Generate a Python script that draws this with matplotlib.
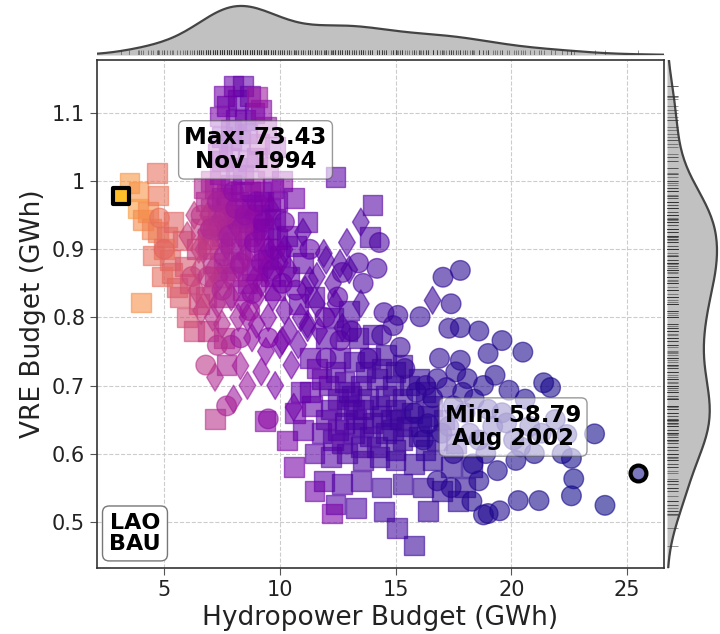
import numpy as np
import matplotlib
matplotlib.use("Agg")
import matplotlib.pyplot as plt
import seaborn as sns
from matplotlib.colors import Normalize
from matplotlib.ticker import FuncFormatter

# (hydropower GWh, VRE GWh, value)
squares = [
    (3.5, 0.997, 71.5), (3.9, 0.985, 71.4), (3.88, 0.96, 71.8), (4.1, 0.943, 71.0),
    (4.3, 0.955, 70.9), (4.45, 0.93, 70.6), (4.7, 1.012, 69.5), (4.74, 0.979, 69.8),
    (4.74, 0.925, 70.2), (4.52, 0.891, 69.6), (5.13, 0.918, 69.2), (5.26, 0.884, 69.0),
    (5.35, 0.865, 68.8), (5.56, 0.844, 68.6), (5.7, 0.83, 68.4), (4.0, 0.822, 71.2),
    (5.8, 0.913, 68.5), (4.9, 0.86, 69.4), (5.0, 0.9, 69.6), (5.9, 0.875, 68.2),
    (6.1, 0.85, 67.8), (6.0, 0.80, 67.9), (6.3, 0.78, 67.4), (6.5, 0.82, 67.2),
    (5.4, 0.94, 68.9), (6.9, 0.78, 66.5), (7.6, 0.77, 65.8), (7.7, 0.73, 65.3),
    (7.2, 0.651, 66.0), (9.36, 0.648, 63.5), (10.3, 0.619, 63.0),
    (6.6, 0.93, 66.5), (7.0, 0.96, 65.8), (7.4, 0.9, 66.0), (7.8, 0.94, 65.2),
    (8.2, 0.97, 64.8), (8.6, 0.92, 64.5), (7.2, 0.86, 66.2), (8.0, 0.88, 65.0),
    (8.8, 0.87, 64.0), (9.1, 0.95, 63.6), (6.8, 0.83, 66.9), (7.6, 0.83, 65.6),
    (8.4, 0.84, 64.6),
    (6.8, 0.97, 65.5), (7.2, 0.99, 64.8), (7.7, 0.98, 64.0), (8.0, 0.95, 64.2),
    (8.5, 0.96, 63.8), (8.9, 0.93, 63.4), (7.5, 0.92, 65.0), (8.3, 0.90, 64.3),
    (9.3, 0.90, 63.2), (9.6, 0.93, 62.8), (7.9, 0.91, 64.6), (8.7, 0.985, 63.5),
    (7.1, 0.935, 65.6), (6.4, 0.90, 66.8), (9.9, 0.97, 62.6), (8.1, 1.02, 63.4),
    (7.3, 1.04, 63.6), (9.0, 0.87, 63.5), (9.8, 0.84, 62.8), (8.6, 0.85, 64.0),
    (6.7, 0.99, 65.6), (7.0, 1.0, 65.0), (7.5, 0.975, 64.6), (7.9, 0.995, 63.8),
    (8.3, 0.985, 63.4), (8.8, 0.965, 63.2), (9.2, 0.985, 62.9), (9.6, 0.96, 62.6),
    (6.9, 0.915, 66.0), (7.3, 0.95, 65.2), (7.7, 0.93, 64.8), (8.2, 0.945, 64.0),
    (8.7, 0.94, 63.6), (9.3, 0.93, 63.0), (9.9, 0.915, 62.4), (7.1, 0.88, 65.8),
    (7.6, 0.87, 65.2), (8.1, 0.86, 64.6), (8.9, 0.90, 63.8), (9.5, 0.885, 63.1),
    (7.9, 1.06, 63.0), (8.5, 1.09, 62.5), (7.7, 1.11, 62.2), (8.2, 1.12, 61.9),
    (7.9, 1.075, 62.4), (8.6, 1.07, 62.2), (8.9, 1.1, 62.0), (7.5, 1.03, 63.2),
    (8.4, 1.01, 63.0), (9.8, 1.05, 63.4), (9.0, 1.035, 63.3),
    (8.0, 1.14, 62.0), (8.4, 1.14, 61.8), (7.6, 1.125, 62.5), (8.7, 1.125, 61.9),
    (9.2, 1.105, 63.5), (7.4, 1.095, 62.8), (8.1, 1.09, 62.2), (9.4, 1.08, 63.8),
    (7.5, 1.065, 62.4), (8.3, 1.06, 62.6), (9.1, 1.055, 64.2), (7.8, 1.035, 63.0),
    (8.6, 1.03, 63.2), (9.5, 1.02, 64.5), (10.1, 1.0, 63.6), (7.4, 1.01, 64.0),
    (8.9, 1.0, 64.3), (9.7, 0.99, 63.0), (10.6, 0.975, 62.5), (9.3, 0.97, 62.8),
    (12.4, 1.006, 61.5), (9.0, 1.124, 64.5),
    (9.8, 0.945, 62.3), (10.3, 0.92, 62.0), (10.0, 0.89, 62.6), (10.7, 0.905, 61.8),
    (11.2, 0.94, 61.6), (9.6, 0.86, 62.9), (10.4, 0.86, 62.1), (11.0, 0.88, 61.7),
    (14.0, 0.965, 61.2), (13.9, 0.918, 61.0), (11.5, 0.83, 61.5), (10.8, 0.82, 61.9),
    (12.9, 0.78, 61.0), (13.4, 0.77, 60.8), (14.0, 0.775, 60.6), (12.6, 0.74, 61.2),
    (13.2, 0.735, 60.9), (13.9, 0.74, 60.7), (14.6, 0.745, 60.4), (15.3, 0.73, 60.2),
    (12.1, 0.70, 61.4), (12.8, 0.705, 61.0), (13.5, 0.70, 60.8), (14.2, 0.71, 60.6),
    (14.9, 0.70, 60.3), (15.6, 0.70, 60.1), (16.3, 0.69, 59.9), (11.4, 0.67, 61.8),
    (12.2, 0.665, 61.3), (12.9, 0.67, 61.0), (13.6, 0.665, 60.7), (14.3, 0.67, 60.5),
    (15.0, 0.665, 60.3), (15.7, 0.66, 60.1), (16.4, 0.655, 59.9), (17.1, 0.65, 59.8),
    (11.0, 0.635, 62.0), (11.8, 0.63, 61.5), (12.5, 0.635, 61.2), (13.2, 0.63, 60.9),
    (13.9, 0.625, 60.7), (14.6, 0.63, 60.4), (15.3, 0.62, 60.2), (16.0, 0.625, 60.0),
    (16.8, 0.62, 59.8), (17.6, 0.615, 59.6), (11.5, 0.60, 61.6), (12.2, 0.595, 61.3),
    (12.9, 0.60, 61.0), (13.6, 0.59, 60.8), (14.3, 0.595, 60.5), (15.0, 0.59, 60.3),
    (15.8, 0.585, 60.1), (16.6, 0.59, 59.9), (17.4, 0.58, 59.7), (18.3, 0.58, 59.5),
    (11.9, 0.56, 61.4), (12.7, 0.555, 61.1), (13.5, 0.56, 60.8), (14.4, 0.55, 60.5),
    (15.3, 0.555, 60.2), (16.2, 0.55, 60.0), (17.0, 0.545, 59.8), (18.0, 0.55, 59.6),
    (12.4, 0.525, 61.2), (13.3, 0.52, 60.9), (14.5, 0.515, 60.5), (12.26, 0.512, 63.0),
    (15.06, 0.491, 60.5), (15.8, 0.465, 60.1), (17.7, 0.53, 59.7), (16.4, 0.516, 60.0),
    (10.6, 0.58, 62.6), (10.9, 0.69, 62.0), (11.3, 0.74, 61.7), (11.8, 0.71, 61.5),
    (12.0, 0.77, 61.3), (13.0, 0.81, 60.9), (12.3, 0.80, 61.1), (11.5, 0.545, 62.5),
    (11.6, 0.725, 62.0), (10.66, 0.66, 62.5),
    (13.1, 0.685, 60.9), (13.8, 0.68, 60.6), (14.6, 0.685, 60.4), (15.3, 0.68, 60.2),
    (12.5, 0.68, 61.1), (14.0, 0.645, 60.6), (14.8, 0.65, 60.3), (15.5, 0.64, 60.1),
    (13.3, 0.65, 60.8), (12.7, 0.615, 61.0), (14.2, 0.61, 60.5), (15.0, 0.605, 60.3),
    (16.3, 0.605, 59.9), (13.5, 0.61, 60.7), (11.3, 0.69, 61.8),
    (12.4, 0.72, 61.2), (13.7, 0.72, 60.7), (14.4, 0.725, 60.4), (15.0, 0.72, 60.2),
    (16.0, 0.71, 59.9), (13.0, 0.69, 60.9),
    (12.0, 0.65, 61.4), (12.8, 0.645, 61.0), (13.6, 0.64, 60.7), (14.4, 0.655, 60.5),
    (15.2, 0.65, 60.2), (16.1, 0.64, 59.9), (13.2, 0.665, 60.9), (14.9, 0.635, 60.3),
    (16.6, 0.67, 59.9), (12.3, 0.62, 61.2),
]

diamonds = [
    (6.3, 0.95, 66.5), (6.0, 0.92, 67.0), (6.7, 0.90, 66.2), (7.3, 0.93, 65.8),
    (6.5, 0.87, 66.8), (7.0, 0.84, 66.4), (7.8, 0.86, 65.4), (8.5, 0.89, 64.6),
    (9.0, 0.83, 63.8), (8.2, 0.80, 64.9), (7.5, 0.79, 65.6), (8.8, 0.77, 64.0),
    (9.5, 0.80, 63.2), (10.0, 0.76, 62.8), (10.4, 0.78, 62.4), (10.9, 0.80, 62.0),
    (11.1, 0.84, 61.8), (11.6, 0.82, 61.6), (12.0, 0.884, 61.3), (11.0, 0.925, 61.6),
    (13.5, 0.94, 61.0), (12.6, 0.879, 61.2), (13.0, 0.87, 61.0), (12.3, 0.85, 61.4),
    (13.5, 0.82, 60.9), (16.6, 0.825, 60.0), (7.2, 0.712, 65.5), (8.3, 0.729, 64.8),
    (9.2, 0.72, 63.6), (9.8, 0.70, 63.0), (10.5, 0.73, 62.6), (8.0, 0.68, 64.5),
    (10.6, 0.668, 62.4), (10.1, 0.766, 62.6), (11.2, 0.79, 61.9), (11.9, 0.894, 61.4),
    (11.3, 0.854, 61.7), (12.7, 0.785, 61.2), (11.2, 0.785, 61.8),
    (6.9, 0.95, 65.8), (7.6, 0.97, 64.6), (8.1, 0.935, 64.2), (8.8, 0.95, 63.6),
    (9.4, 0.87, 63.0), (7.4, 0.86, 65.2), (8.4, 0.82, 64.2), (9.7, 0.83, 62.8),
    (10.2, 0.81, 62.4), (9.0, 0.79, 63.6), (6.6, 0.81, 66.8), (7.1, 0.80, 66.0),
    (8.6, 0.70, 64.4), (9.4, 0.75, 63.4), (10.8, 0.76, 62.2), (11.7, 0.78, 61.8),
    (12.4, 0.82, 61.4), (10.4, 0.87, 62.2), (11.6, 0.86, 61.6), (12.9, 0.91, 61.2),
    (6.8, 0.925, 66.2), (7.4, 0.945, 65.4), (7.9, 0.955, 64.8), (8.4, 0.915, 64.4),
    (9.1, 0.925, 63.4), (6.5, 0.90, 66.9), (7.1, 0.87, 65.9), (7.7, 0.905, 65.0),
    (8.2, 0.875, 64.6), (8.9, 0.855, 63.9), (9.5, 0.90, 63.0), (6.4, 0.84, 67.0),
    (7.9, 0.83, 64.8), (9.2, 0.85, 63.4), (10.0, 0.88, 62.5), (8.6, 0.80, 64.2),
    (7.3, 0.82, 65.6), (9.6, 0.96, 62.9), (10.2, 0.90, 62.3),
]

circles = [
    (6.9, 0.90, 66.5), (7.6, 0.95, 65.5), (8.4, 0.93, 64.8), (7.9, 0.759, 65.2),
    (7.3, 0.759, 65.8), (9.5, 0.651, 63.8), (6.2, 0.86, 67.2), (8.7, 0.81, 64.4),
    (9.2, 0.88, 63.7), (4.8, 0.946, 69.5), (5.0, 0.90, 69.0),
    (7.3, 0.97, 65.0), (8.1, 0.96, 64.2), (6.6, 0.95, 66.2), (9.8, 0.90, 62.8),
    (8.9, 0.91, 63.6), (7.6, 0.89, 65.0), (10.2, 0.94, 62.4), (11.3, 0.90, 61.8),
    (10.7, 0.84, 62.1), (9.5, 0.77, 63.2), (8.3, 0.77, 64.5), (6.8, 0.73, 66.2),
    (7.7, 0.67, 65.2),
    (7.0, 0.93, 65.6), (7.8, 0.92, 64.9), (8.5, 0.95, 64.1), (9.3, 0.94, 63.2),
    (8.0, 0.985, 63.9), (6.9, 0.86, 66.3), (8.3, 0.88, 64.6), (9.7, 0.87, 62.9),
    (7.5, 0.84, 65.4), (8.8, 0.835, 63.9), (10.1, 0.85, 62.5), (9.0, 0.97, 63.4),
    (11.95, 0.80, 61.8), (12.5, 0.83, 61.5), (12.7, 0.866, 61.3), (12.6, 0.766, 61.4),
    (13.1, 0.78, 61.1), (14.3, 0.91, 60.8), (14.2, 0.872, 60.7), (13.6, 0.85, 60.9),
    (14.5, 0.807, 60.5), (14.4, 0.774, 60.5), (14.9, 0.788, 60.3), (15.1, 0.803, 60.2),
    (15.4, 0.725, 60.0), (15.2, 0.756, 60.1), (13.8, 0.74, 60.7), (12.0, 0.74, 61.5),
    (13.4, 0.88, 61.0),
    (16.06, 0.801, 59.8), (17.05, 0.859, 59.6), (17.8, 0.869, 59.5), (17.4, 0.82, 59.6),
    (17.3, 0.784, 59.6), (17.8, 0.785, 59.4), (17.8, 0.737, 59.4), (19.0, 0.747, 59.3),
    (19.6, 0.766, 59.2), (20.5, 0.749, 59.1), (21.4, 0.704, 59.0), (21.7, 0.697, 59.0),
    (19.9, 0.693, 59.2), (16.8, 0.71, 59.7), (18.1, 0.71, 59.4), (23.6, 0.629, 58.9),
    (22.6, 0.593, 58.9), (22.7, 0.563, 58.9), (22.6, 0.538, 58.9), (24.05, 0.524, 58.85),
    (21.2, 0.531, 59.0), (20.3, 0.531, 59.1), (19.0, 0.512, 59.2), (19.5, 0.516, 59.2),
    (19.4, 0.575, 59.15), (20.2, 0.59, 59.1), (18.35, 0.585, 59.3), (17.4, 0.55, 59.5),
    (17.5, 0.60, 59.5), (16.6, 0.682, 59.7), (17.2, 0.697, 59.6), (16.4, 0.644, 59.7),
    (21.9, 0.65, 58.95), (22.4, 0.628, 58.9), (18.0, 0.66, 59.4), (19.2, 0.64, 59.2),
    (20.1, 0.62, 59.1), (20.8, 0.64, 59.05), (21.0, 0.60, 59.0), (18.6, 0.56, 59.3),
    (16.8, 0.56, 59.6), (17.5, 0.67, 59.5), (16.2, 0.62, 59.7), (15.8, 0.66, 59.8),
    (18.3, 0.53, 59.3), (18.8, 0.51, 59.3), (22.2, 0.60, 58.95), (18.6, 0.78, 59.35),
    (16.9, 0.74, 59.6), (20.6, 0.68, 59.1),
    (18.6, 0.62, 59.3), (19.6, 0.66, 59.2), (17.0, 0.63, 59.6), (18.4, 0.68, 59.3),
    (15.9, 0.69, 59.8), (16.3, 0.70, 59.8), (17.6, 0.72, 59.5), (18.8, 0.70, 59.3),
    (19.3, 0.715, 59.2),
    (17.3, 0.64, 59.6), (18.2, 0.63, 59.4), (19.0, 0.665, 59.25), (19.8, 0.645, 59.15),
    (20.4, 0.61, 59.1), (17.9, 0.69, 59.4), (21.3, 0.63, 59.0), (18.9, 0.60, 59.3),
]

max_point = (3.14, 0.979, 73.43)
min_point = (25.48, 0.572, 58.79)
max_label = "Max: 73.43\nNov 1994"
min_label = "Min: 58.79\nAug 2002"
region_label = "LAO\nBAU"

cmap = plt.get_cmap("plasma")
norm = Normalize(vmin=58.79, vmax=75.8)

fig = plt.figure(figsize=(7.2, 6.34), dpi=100)
ax = fig.add_axes([97 / 720, 66 / 634, 567 / 720, 508 / 634])
ax_top = fig.add_axes([97 / 720, 579 / 634, 567 / 720, 52 / 634], sharex=ax)
ax_right = fig.add_axes([667 / 720, 66 / 634, 52 / 720, 508 / 634], sharey=ax)

for pts, mk in [(squares, "s"), (diamonds, "d"), (circles, "o")]:
    x, y, v = zip(*pts)
    cols = cmap(norm(np.array(v)))
    cols[:, 3] = 0.58
    ax.scatter(x, y, s=200, marker=mk, c=cols, edgecolors=cols, linewidths=1.0)

c = cmap(norm(max_point[2]))
ax.scatter([max_point[0]], [max_point[1]], s=130, marker="s", color=c,
           edgecolors="black", linewidths=3, zorder=5)
c = list(cmap(norm(min_point[2])))
c[3] = 0.55
ax.scatter([min_point[0]], [min_point[1]], s=130, marker="o", facecolors=[c],
           edgecolors="black", linewidths=3, zorder=5)

box = dict(boxstyle="round,pad=0.25", facecolor="white", alpha=0.6, edgecolor="#555555")
ax.text(8.95, 1.046, max_label, ha="center", va="center", fontsize=16.5,
        fontweight="bold", bbox=box, zorder=6, linespacing=1.05)
ax.text(20.08, 0.639, min_label, ha="center", va="center", fontsize=16.5,
        fontweight="bold", bbox=box, zorder=6, linespacing=1.05)
ax.text(0.067, 0.068, region_label, transform=ax.transAxes, ha="center", va="center",
        fontsize=16, fontweight="bold", zorder=6, linespacing=1.1,
        bbox=dict(boxstyle="round,pad=0.3", facecolor="white", edgecolor="#777777"))

ax.set_xlim(2.1, 26.6)
ax.set_ylim(0.432, 1.178)
ax.set_xticks([5, 10, 15, 20, 25])
ax.set_yticks([0.5, 0.6, 0.7, 0.8, 0.9, 1.0, 1.1])
ax.yaxis.set_major_formatter(FuncFormatter(lambda v, p: "%g" % v))
ax.grid(True, linestyle="--", color="#cccccc", linewidth=0.8)
ax.set_axisbelow(True)
ax.tick_params(labelsize=15, length=5, color="#555555", labelcolor="#222222")
for sp in ax.spines.values():
    sp.set_color("#333333")
    sp.set_linewidth(1.2)
ax.set_xlabel("Hydropower Budget (GWh)", fontsize=19, color="#222222")
ax.set_ylabel("VRE Budget (GWh)", fontsize=19, color="#222222")

all_x = [p[0] for p in squares + diamonds + circles] + [max_point[0], min_point[0]]
all_y = [p[1] for p in squares + diamonds + circles] + [max_point[1], min_point[1]]

bw = 0.9
sns.kdeplot(x=all_x, ax=ax_top, fill=True, color="#999999", alpha=0.6, linewidth=0, bw_adjust=bw)
sns.kdeplot(x=all_x, ax=ax_top, color="#444444", linewidth=1.6, bw_adjust=bw)
sns.rugplot(x=all_x, ax=ax_top, height=0.1, color="#333333", linewidth=0.6, alpha=0.6)
sns.kdeplot(y=all_y, ax=ax_right, fill=True, color="#999999", alpha=0.6, linewidth=0, bw_adjust=bw)
sns.kdeplot(y=all_y, ax=ax_right, color="#444444", linewidth=1.6, bw_adjust=bw)
sns.rugplot(y=all_y, ax=ax_right, height=0.22, color="#333333", linewidth=0.6, alpha=0.6)

top_peak = max(l.get_ydata().max() for l in ax_top.lines)
right_peak = max(l.get_xdata().max() for l in ax_right.lines)
ax_top.set_ylim(0, top_peak * 1.06)
ax_right.set_xlim(0, right_peak * 1.04)
for a in (ax_top, ax_right):
    a.axis("off")

fig.savefig("out.png", dpi=100)
